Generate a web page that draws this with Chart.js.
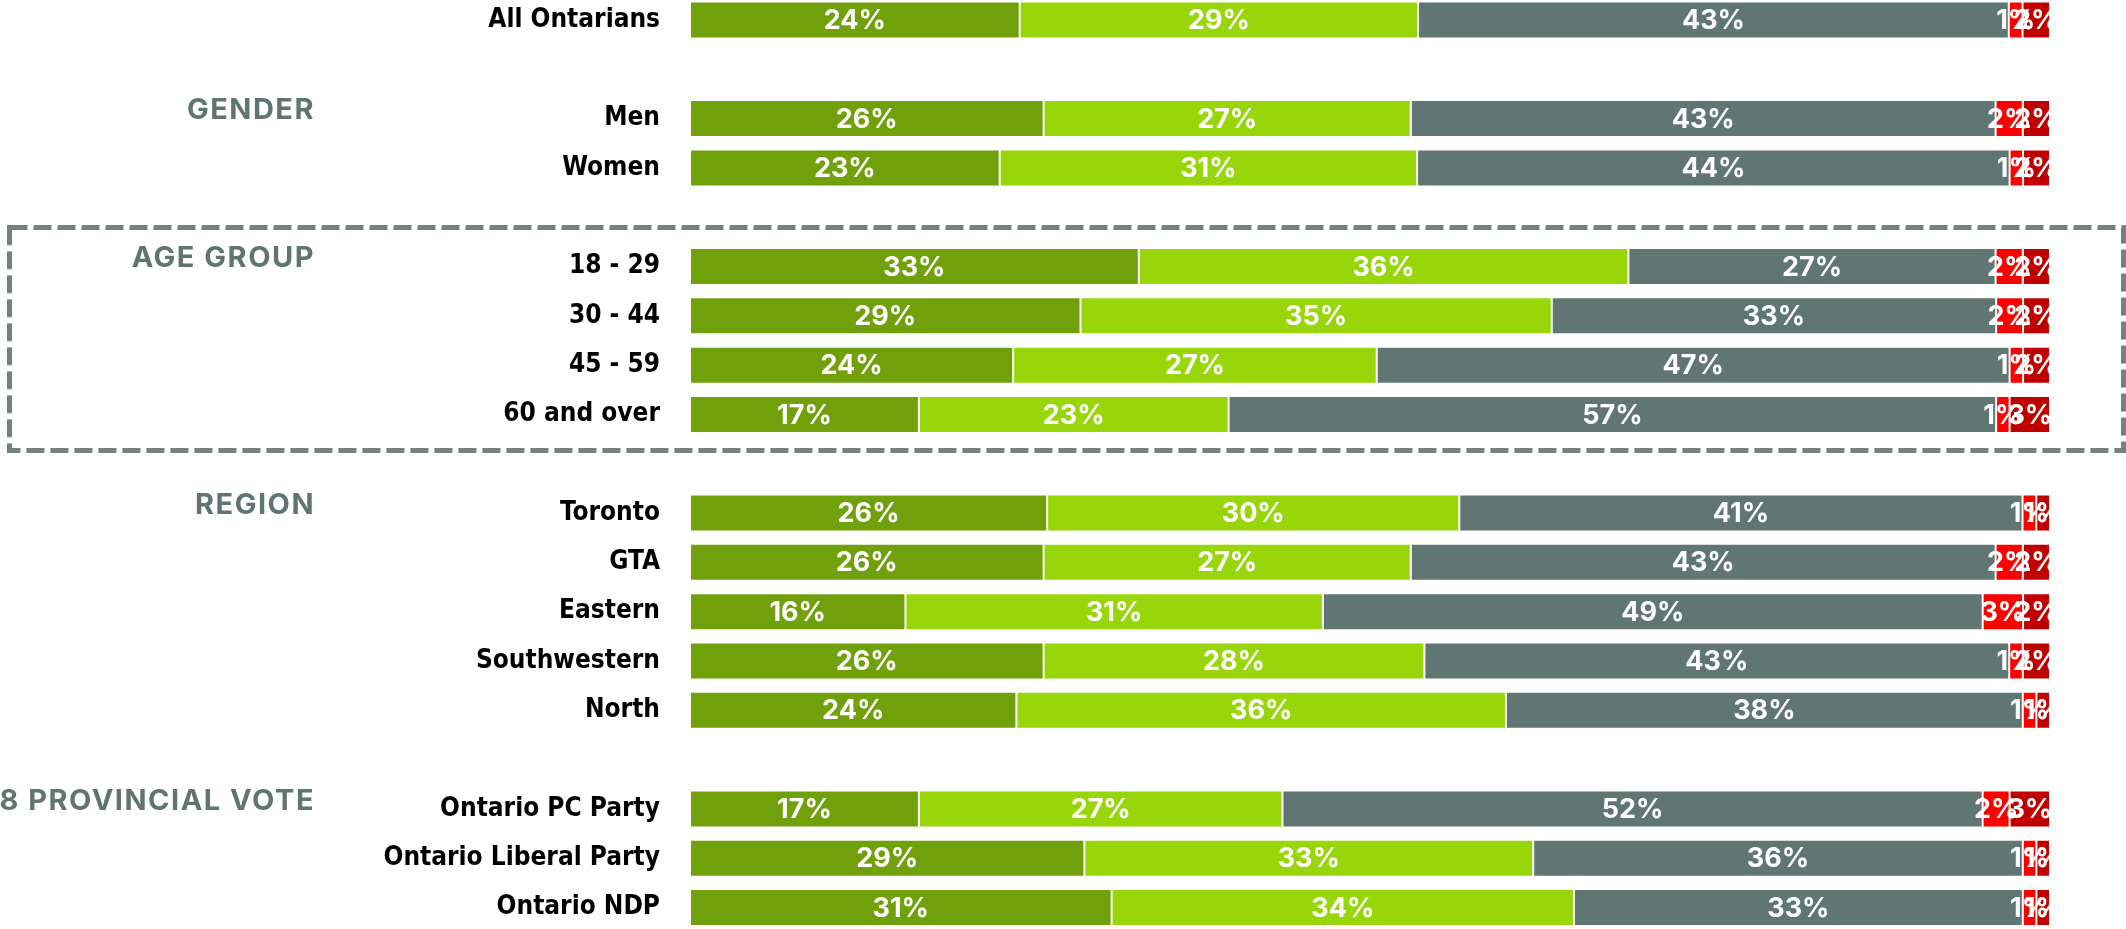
<!DOCTYPE html>
<html>
<head>
<meta charset="utf-8">
<title>Ontarians by group</title>
<script src="https://cdn.jsdelivr.net/npm/chart.js@4.4.1/dist/chart.umd.min.js"></script>
<style>
  html, body { margin: 0; padding: 0; background: #fff; }
  #wrap { width: 2126px; height: 929px; position: relative; overflow: hidden; }
</style>
</head>
<body>
<div id="wrap"><canvas id="chart" width="2126" height="929"></canvas></div>
<script>
// rows (empty strings are spacer rows between groups)
var categories = ['All Ontarians', '', 'Men', 'Women', '', '18 - 29', '30 - 44', '45 - 59', '60 and over', '',
  'Toronto', 'GTA', 'Eastern', 'Southwestern', 'North', '', 'Ontario PC Party', 'Ontario Liberal Party', 'Ontario NDP'];

// percentages per segment, left to right
var darkGreen  = [24, null, 26, 23, null, 33, 29, 24, 17, null, 26, 26, 16, 26, 24, null, 17, 29, 31];
var lightGreen = [29, null, 27, 31, null, 36, 35, 27, 23, null, 30, 27, 31, 28, 36, null, 27, 33, 34];
var grey       = [43, null, 43, 44, null, 27, 33, 47, 57, null, 41, 43, 49, 43, 38, null, 52, 36, 33];
var red        = [1, null, 2, 1, null, 2, 2, 1, 1, null, 1, 2, 3, 1, 1, null, 2, 1, 1];
var darkRed    = [2, null, 2, 2, null, 2, 2, 2, 3, null, 1, 2, 2, 2, 1, null, 3, 1, 1];

// group headings and the row each one sits beside
var groupTitles = ['GENDER', 'AGE GROUP', 'REGION', '2018 PROVINCIAL VOTE'];
var groupRows = [2, 5, 10, 16];
// rows inside the dashed frame
var framedRows = [5, 8];

(function(){
  'use strict';

  var series = [
    { values: darkGreen, color: '#70a00a' },
    { values: lightGreen, color: '#98d60a' },
    { values: grey, color: '#5f7672' },
    { values: red, color: '#ff0000' },
    { values: darkRed, color: '#c00000' }
  ];

  // every bar fills the full width: scale each row by its own total
  var totals = categories.map(function(_, i){
    var t = 0;
    series.forEach(function(s){ t += s.values[i] || 0; });
    return t;
  });

  var datasets = series.map(function(s){
    return {
      data: s.values.map(function(v, i){ return v == null ? null : v / totals[i] * 100; }),
      raw: s.values,
      backgroundColor: s.color,
      borderColor: 'rgba(255,255,255,0.35)',
      borderWidth: 1,
      borderSkipped: false,
      barPercentage: 0.75,
      categoryPercentage: 1,
      clip: false
    };
  });

  var labelFont = '"DejaVu Sans Condensed", "DejaVu Sans", sans-serif';
  var valueFont = 'Inter, "Noto Sans", sans-serif';

  // white value text centred in each segment
  var valueLabels = {
    id: 'valueLabels',
    afterDatasetsDraw: function(chart){
      var ctx = chart.ctx;
      ctx.save();
      ctx.fillStyle = '#fff';
      ctx.font = 'bold 27px ' + valueFont;
      ctx.textAlign = 'center';
      ctx.textBaseline = 'middle';
      chart.data.datasets.forEach(function(ds, di){
        chart.getDatasetMeta(di).data.forEach(function(bar, i){
          var v = ds.raw[i];
          if(v == null) return;
          ctx.fillText(v + '%', (bar.x + bar.base) / 2, bar.y + 1);
        });
      });
      ctx.restore();
    }
  };

  // grey group headings and the dashed frame round the age rows
  var groupDecor = {
    id: 'groupDecor',
    afterDraw: function(chart){
      var ctx = chart.ctx;
      var y = chart.scales.y;
      ctx.save();
      ctx.fillStyle = '#5f7571';
      ctx.font = 'bold 29px ' + valueFont;
      ctx.letterSpacing = '1.5px';
      ctx.textAlign = 'right';
      ctx.textBaseline = 'middle';
      groupTitles.forEach(function(t, k){
        ctx.fillText(t, 315, y.getPixelForValue(groupRows[k]) - 8);
      });

      var top = y.getPixelForValue(framedRows[0]) - 39;
      var bottom = y.getPixelForValue(framedRows[1]) + 36;
      ctx.strokeStyle = '#74817e';
      ctx.lineWidth = 5;
      ctx.setLineDash([18, 6]);
      ctx.strokeRect(9.5, top, chart.width - 12, bottom - top);
      ctx.restore();
    }
  };

  new Chart(document.getElementById('chart'), {
    type: 'bar',
    data: { labels: categories, datasets: datasets },
    plugins: [valueLabels, groupDecor],
    options: {
      indexAxis: 'y',
      responsive: false,
      animation: false,
      layout: { padding: { left: 0, right: 76, top: 20, bottom: 21.5 } },
      plugins: { legend: { display: false }, tooltip: { enabled: false } },
      scales: {
        x: { stacked: true, min: 0, max: 100, display: false },
        y: {
          stacked: true,
          offset: false,
          grid: { display: false, drawTicks: false },
          border: { display: false },
          ticks: {
            color: '#000',
            padding: 30,
            font: { family: labelFont, weight: 'bold', size: 26 }
          },
          afterFit: function(scale){
            scale.width = 690;
            // first and last rows sit on the plot edges; no extra room for their labels
            scale.paddingTop = 0;
            scale.paddingBottom = 0;
          }
        }
      }
    }
  });
})();
</script>
</body>
</html>
